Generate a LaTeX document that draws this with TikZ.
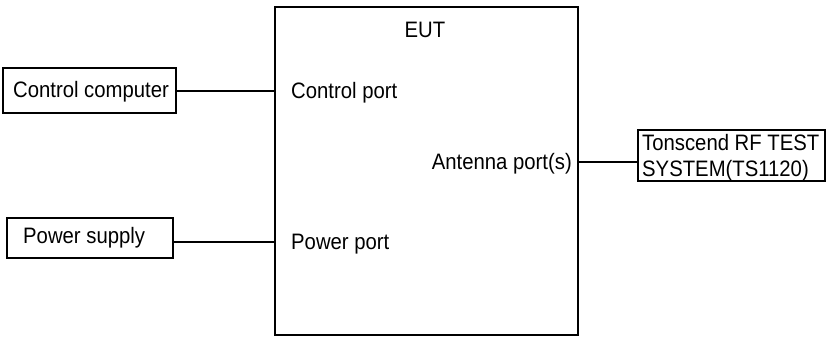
\documentclass[tikz,border=0pt]{standalone}
\usepackage{fontspec}
\usepackage{graphicx}
\setmainfont{Liberation Sans}
\newcommand\talltext[1]{\scalebox{1}[1.1]{#1}}
\begin{document}
\begin{tikzpicture}[x=1pt,y=-1pt,
  box/.style={draw,line width=1.3pt,inner sep=0pt,outer sep=0pt},
  lbl/.style={font=\fontsize{20.3}{24.5}\selectfont,inner sep=0pt},
  conn/.style={line width=1.1pt}]
\useasboundingbox (0,0) rectangle (831,338);
\node[box,minimum width=303,minimum height=328,anchor=north west] (eut) at (275,7) {};
\node[lbl,anchor=base] (eutl) at (425,37) {\talltext{EUT}};
\node[box,minimum width=173,minimum height=45,anchor=north west] (cc) at (3,68) {};
\node[lbl,anchor=base west] (cct) at (13,97) {\talltext{Control computer}};
\node[box,minimum width=166,minimum height=40,anchor=north west] (ps) at (7,218) {};
\node[lbl,anchor=base west] (pst) at (23,243) {\talltext{Power supply}};
\node[box,minimum width=187,minimum height=51,anchor=north west] (ts) at (638,130) {};
\node[lbl,anchor=base west] (tst) at (642,150) {\talltext{\begin{tabular}[t]{@{}l@{}}Tonscend RF TEST\\SYSTEM(TS1120)\end{tabular}}};
\node[lbl,anchor=base west] (cp) at (291,98) {\talltext{Control port}};
\node[lbl,anchor=base west] (pp) at (291,249) {\talltext{Power port}};
\node[lbl,anchor=base east] (ap) at (572,169) {\talltext{Antenna port(s)}};
\coordinate (ccy) at (0,91);
\coordinate (psy) at (0,242);
\coordinate (apy) at (0,162);
\draw[conn] (cc.east |- ccy) -- (eut.west |- ccy);
\draw[conn] (ps.east |- psy) -- (eut.west |- psy);
\draw[conn] (eut.east |- apy) -- (ts.west |- apy);
\end{tikzpicture}
\end{document}
